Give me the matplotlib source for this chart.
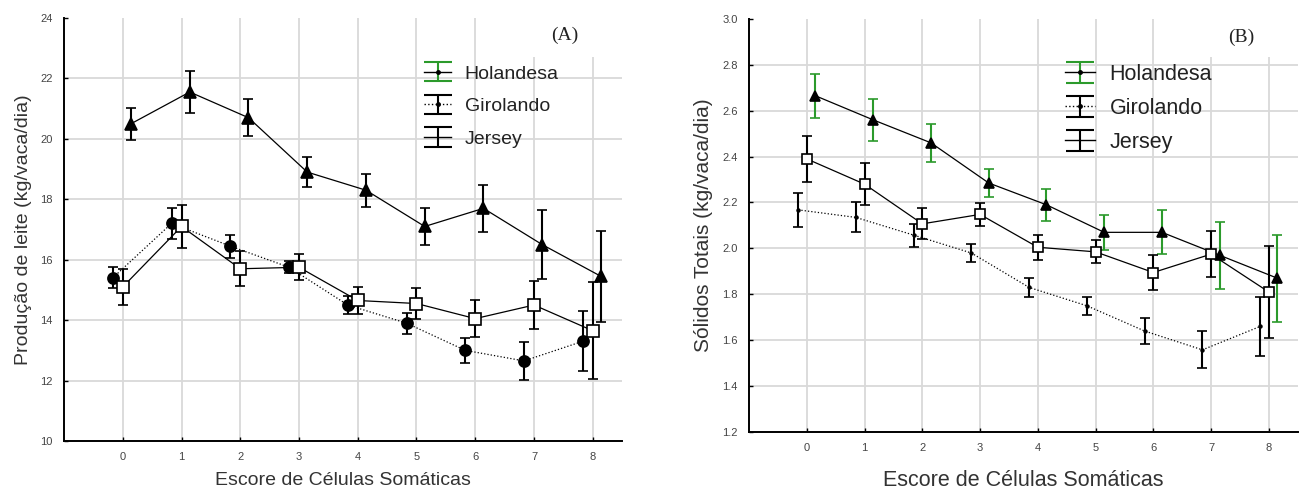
import numpy as np
import matplotlib
matplotlib.use("Agg")
import matplotlib.pyplot as plt
from matplotlib.patches import Rectangle

# ---------- dados ----------
escore = np.arange(9)
series = ["Holandesa", "Girolando", "Jersey"]

# (A) producao de leite (kg/vaca/dia)
leite_hol = [20.5, 21.55, 20.7, 18.9, 18.3, 17.1, 17.7, 16.5, 15.45]
leite_hol_err = [0.53, 0.7, 0.62, 0.5, 0.55, 0.6, 0.78, 1.15, 1.5]
leite_gir = [15.4, 17.2, 16.45, 15.75, 14.5, 13.9, 13.0, 12.65, 13.3]
leite_gir_err = [0.35, 0.5, 0.38, 0.2, 0.3, 0.35, 0.42, 0.63, 1.0]
leite_jer = [15.1, 17.1, 15.7, 15.75, 14.65, 14.55, 14.05, 14.5, 13.65]
leite_jer_err = [0.6, 0.7, 0.58, 0.43, 0.45, 0.5, 0.6, 0.78, 1.6]

# (B) solidos totais (kg/vaca/dia)
st_hol = [2.665, 2.56, 2.46, 2.285, 2.19, 2.07, 2.07, 1.97, 1.87]
st_hol_err = [0.095, 0.092, 0.083, 0.06, 0.07, 0.077, 0.096, 0.146, 0.19]
st_gir = [2.168, 2.135, 2.058, 1.98, 1.83, 1.75, 1.64, 1.558, 1.66]
st_gir_err = [0.075, 0.065, 0.05, 0.04, 0.04, 0.04, 0.056, 0.08, 0.127]
st_jer = [2.39, 2.28, 2.107, 2.148, 2.005, 1.985, 1.895, 1.975, 1.81]
st_jer_err = [0.1, 0.09, 0.068, 0.05, 0.055, 0.05, 0.077, 0.1, 0.2]

VERDE = "#2b9a2b"
CINZA_GRADE = "#d9d9d9"

fig = plt.figure(figsize=(12.99, 4.93), dpi=100)
fig.patch.set_facecolor("white")
plt.rcParams["font.family"] = ["Liberation Sans", "DejaVu Sans"]

axA = fig.add_axes([0.0493, 0.1055, 0.4296, 0.858])
axB = fig.add_axes([0.5766, 0.1237, 0.4224, 0.838])


def estilo(ax, ylim, yticks, fmt):
    ax.set_xlim(-1, 8.5)
    ax.set_ylim(*ylim)
    ax.set_xticks(escore)
    ax.set_yticks(yticks)
    ax.set_yticklabels([fmt.format(v) for v in yticks])
    ax.set_axisbelow(True)
    ax.grid(True, color=CINZA_GRADE, lw=1.3)
    ax.yaxis.get_gridlines()[-1].set_visible(False)  # sem linha no topo
    for s in ("top", "right"):
        ax.spines[s].set_visible(False)
    for s in ("left", "bottom"):
        ax.spines[s].set_linewidth(1.4)
    ax.tick_params(direction="in", length=3, width=1, labelsize=8,
                   labelcolor="#444444", pad=8)
    # area do rotulo do painel sem grade
    ax.add_patch(Rectangle((0.76, 0.908), 0.3, 0.1, transform=ax.transAxes,
                           facecolor="white", edgecolor="none", zorder=1,
                           clip_on=False))


def serie(ax, x, y, e, ls, marker, ms, mfc, ecolor):
    ax.errorbar(x, y, yerr=e, color="black", ls=ls, lw=0.9, marker=marker,
                ms=ms, mfc=mfc, mec="black", mew=1.2, ecolor=ecolor,
                elinewidth=1.5, capsize=3.5, capthick=1.5, zorder=3)


def legenda(ax, x0, y0, fs, lsp):
    kw = dict(lw=1, ms=5, elinewidth=1.5, capsize=10, capthick=1.5)
    h_hol = ax.errorbar([np.nan], [np.nan], yerr=[1], color="black", ls="-",
                        marker=".", ecolor=VERDE, **kw)
    h_gir = ax.errorbar([np.nan], [np.nan], yerr=[1], color="black", ls=":",
                        marker=".", ecolor="black", **kw)
    h_jer = ax.errorbar([np.nan], [np.nan], yerr=[1], color="black", ls="-",
                        marker="", ecolor="black", **kw)
    leg = ax.legend([h_hol, h_gir, h_jer], series, loc="upper left",
                    bbox_to_anchor=(x0, y0), frameon=False, fontsize=fs,
                    handlelength=1.4, handleheight=0.8, handletextpad=0.7,
                    labelspacing=lsp, borderpad=0, borderaxespad=0)
    for t in leg.get_texts():
        t.set_color("#222222")


# ---------- (A) ----------
estilo(axA, (10, 24), np.arange(10, 25, 2), "{:.0f}")
serie(axA, escore + 0.14, leite_hol, leite_hol_err, "-", "^", 8, "black", "black")
serie(axA, escore - 0.17, leite_gir, leite_gir_err, ":", "o", 8, "black", "black")
serie(axA, escore, leite_jer, leite_jer_err, "-", "s", 8, "white", "black")
axA.set_xlabel("Escore de Células Somáticas", fontsize=14, color="#333333",
               labelpad=7)
axA.set_ylabel("Produção de leite (kg/vaca/dia)", fontsize=14, color="#333333",
               labelpad=6)
legenda(axA, 0.645, 0.89, 14, 0.75)
axA.text(0.898, 0.96, "(A)", transform=axA.transAxes, fontsize=14,
         family="Liberation Serif", color="#222222", ha="center", va="center",
         zorder=5)

# ---------- (B) ----------
estilo(axB, (1.2, 3.0), np.round(np.arange(1.2, 3.01, 0.2), 1), "{:.1f}")
serie(axB, escore + 0.15, st_hol, st_hol_err, "-", "^", 7, "black", VERDE)
serie(axB, escore - 0.15, st_gir, st_gir_err, ":", ".", 4, "black", "black")
serie(axB, escore, st_jer, st_jer_err, "-", "s", 7.5, "white", "black")
axB.set_xlabel("Escore de Células Somáticas", fontsize=15.5, color="#333333",
               labelpad=12)
axB.set_ylabel("Sólidos Totais (kg/vaca/dia)", fontsize=15, color="#333333",
               labelpad=7)
legenda(axB, 0.575, 0.89, 15.5, 0.6)
axB.text(0.898, 0.955, "(B)", transform=axB.transAxes, fontsize=14,
         family="Liberation Serif", color="#222222", ha="center", va="center",
         zorder=5)

fig.savefig("out.png", dpi=100, facecolor="white")
